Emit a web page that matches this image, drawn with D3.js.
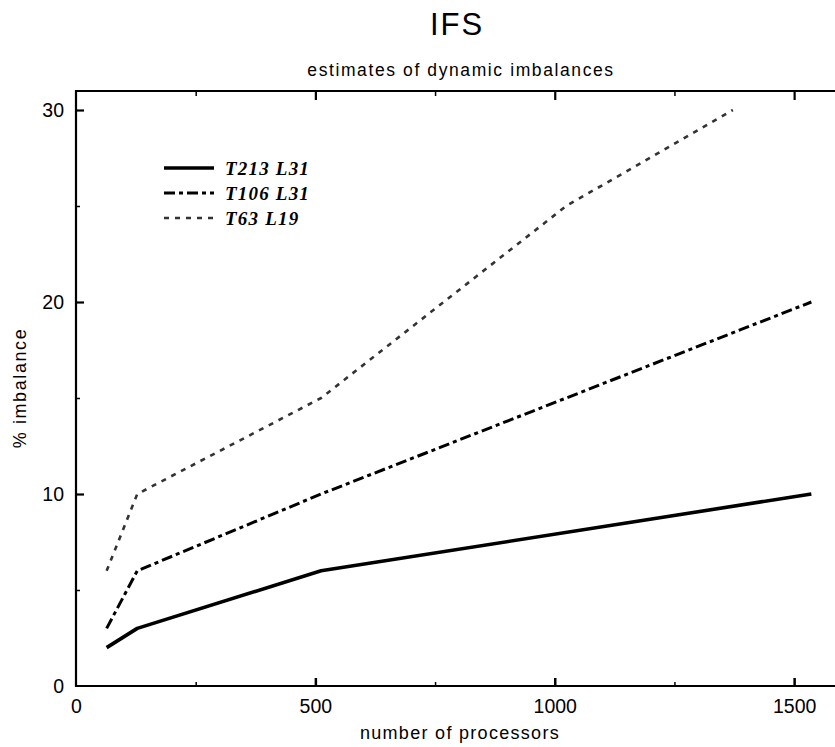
<!DOCTYPE html>
<html>
<head>
<meta charset="utf-8">
<script src="https://cdn.jsdelivr.net/npm/d3@7"></script>
<style>
  body { margin: 0; background: #fff; }
  svg { display: block; }
</style>
</head>
<body>
<svg></svg>
<script>
// chart values
var procs213 = [64, 128, 512, 1536];
var imb213 = [2, 3, 6, 10];
var procs106 = [64, 128, 512, 1536];
var imb106 = [3, 6, 10, 20];
var procs63 = [64, 128, 512, 1024, 1372];
var imb63 = [6, 10, 15, 25, 30];
var seriesNames = ["T213 L31", "T106 L31", "T63 L19"];
var xTicks = [0, 500, 1000, 1500];
var xMinor = [250, 750, 1250];
var yTicks = [0, 10, 20, 30];
var yMinor = [5, 15, 25];

var width = 835, height = 747;
var svg = d3.select("svg")
  .attr("width", width)
  .attr("height", height);

// plot box (right side runs off the page like the scan)
var plotLeft = 76, plotRight = 842, plotTop = 91, plotBottom = 686;
var sans = "Liberation Sans, Arial, sans-serif";

var x = d3.scaleLinear().domain([0, 1600]).range([plotLeft, plotRight]);
var y = d3.scaleLinear().domain([0, 30]).range([plotBottom, 110]);

// frame
svg.append("path")
  .attr("d", "M" + width + "," + plotTop + "H" + plotLeft + "V" + plotBottom + "H" + width)
  .attr("fill", "none").attr("stroke", "#000").attr("stroke-width", 2.2);

// bottom axis, ticks point inward
var gx = svg.append("g").attr("transform", "translate(0," + plotBottom + ")")
  .call(d3.axisBottom(x).tickValues(xTicks).tickSize(-8).tickPadding(13).tickFormat(d3.format("d")));
gx.select(".domain").remove();
gx.selectAll("line").attr("stroke-width", 2.5);
gx.selectAll(".tick").filter(function (d) { return d === 0; }).select("line").remove();
gx.selectAll("text").attr("font-family", sans).attr("font-size", 19.5).attr("fill", "#000");

var gxm = svg.append("g").attr("transform", "translate(0," + plotBottom + ")")
  .call(d3.axisBottom(x).tickValues(xMinor).tickSize(-4).tickFormat(""));
gxm.select(".domain").remove();
gxm.selectAll("line").attr("stroke-width", 1.5);

// top edge ticks
var gt = svg.append("g").attr("transform", "translate(0," + plotTop + ")")
  .call(d3.axisTop(x).tickValues(xTicks.slice(1)).tickSize(-9).tickFormat(""));
gt.select(".domain").remove();
gt.selectAll("line").attr("stroke-width", 2.2);
var gtm = svg.append("g").attr("transform", "translate(0," + plotTop + ")")
  .call(d3.axisTop(x).tickValues(xMinor).tickSize(-5).tickFormat(""));
gtm.select(".domain").remove();
gtm.selectAll("line").attr("stroke-width", 1.5);

// left axis
var gy = svg.append("g").attr("transform", "translate(" + plotLeft + ",0)")
  .call(d3.axisLeft(y).tickValues(yTicks).tickSize(-8).tickPadding(12));
gy.select(".domain").remove();
gy.selectAll("line").attr("stroke-width", 2.2);
gy.selectAll(".tick").filter(function (d) { return d === 0; }).select("line").remove();
gy.selectAll("text").attr("font-family", sans).attr("font-size", 19.5).attr("fill", "#000");

var gym = svg.append("g").attr("transform", "translate(" + plotLeft + ",0)")
  .call(d3.axisLeft(y).tickValues(yMinor).tickSize(-4).tickFormat(""));
gym.select(".domain").remove();
gym.selectAll("line").attr("stroke-width", 1.5);

// titles
svg.append("text").attr("x", 457).attr("y", 35).attr("text-anchor", "middle")
  .attr("font-family", sans).attr("font-size", 31).attr("letter-spacing", 2)
  .text("IFS");
svg.append("text").attr("x", 461).attr("y", 76).attr("text-anchor", "middle")
  .attr("font-family", sans).attr("font-size", 17.5).attr("letter-spacing", 1.6)
  .text("estimates of dynamic imbalances");
svg.append("text").attr("x", 460).attr("y", 739).attr("text-anchor", "middle")
  .attr("font-family", sans).attr("font-size", 18).attr("letter-spacing", 1.3)
  .text("number of processors");
svg.append("text").attr("transform", "translate(26,388) rotate(-90)").attr("text-anchor", "middle")
  .attr("font-family", sans).attr("font-size", 18).attr("letter-spacing", 1.6)
  .text("% imbalance");

// series lines
var styles = [
  { color: "#000", width: 3.6, dash: null },
  { color: "#000", width: 3, dash: "11,4,4,4" },
  { color: "#333", width: 2.6, dash: "5,6" }
];
var series = [
  d3.zip(procs213, imb213),
  d3.zip(procs106, imb106),
  d3.zip(procs63, imb63)
];
var line = d3.line().x(function (d) { return x(d[0]); }).y(function (d) { return y(d[1]); });

svg.selectAll("path.series")
  .data(series)
  .enter()
  .append("path")
  .attr("class", "series")
  .attr("d", line)
  .attr("fill", "none")
  .attr("stroke", function (d, i) { return styles[i].color; })
  .attr("stroke-width", function (d, i) { return styles[i].width; })
  .attr("stroke-dasharray", function (d, i) { return styles[i].dash; })
  .attr("stroke-linejoin", "round");

// legend
var legend = svg.selectAll("g.legend")
  .data(seriesNames)
  .enter()
  .append("g")
  .attr("class", "legend")
  .attr("transform", function (d, i) { return "translate(164," + (168 + i * 25) + ")"; });
legend.append("line").attr("x1", 0).attr("x2", 50).attr("y1", 0).attr("y2", 0)
  .attr("stroke", function (d, i) { return styles[i].color; })
  .attr("stroke-width", function (d, i) { return styles[i].width; })
  .attr("stroke-dasharray", function (d, i) { return styles[i].dash; });
legend.append("text").attr("x", 61).attr("y", 7)
  .attr("font-family", "Liberation Serif, Times New Roman, serif")
  .attr("font-size", 19).attr("font-weight", "bold").attr("font-style", "italic")
  .attr("letter-spacing", 1.2)
  .text(function (d) { return d; });
</script>
</body>
</html>
